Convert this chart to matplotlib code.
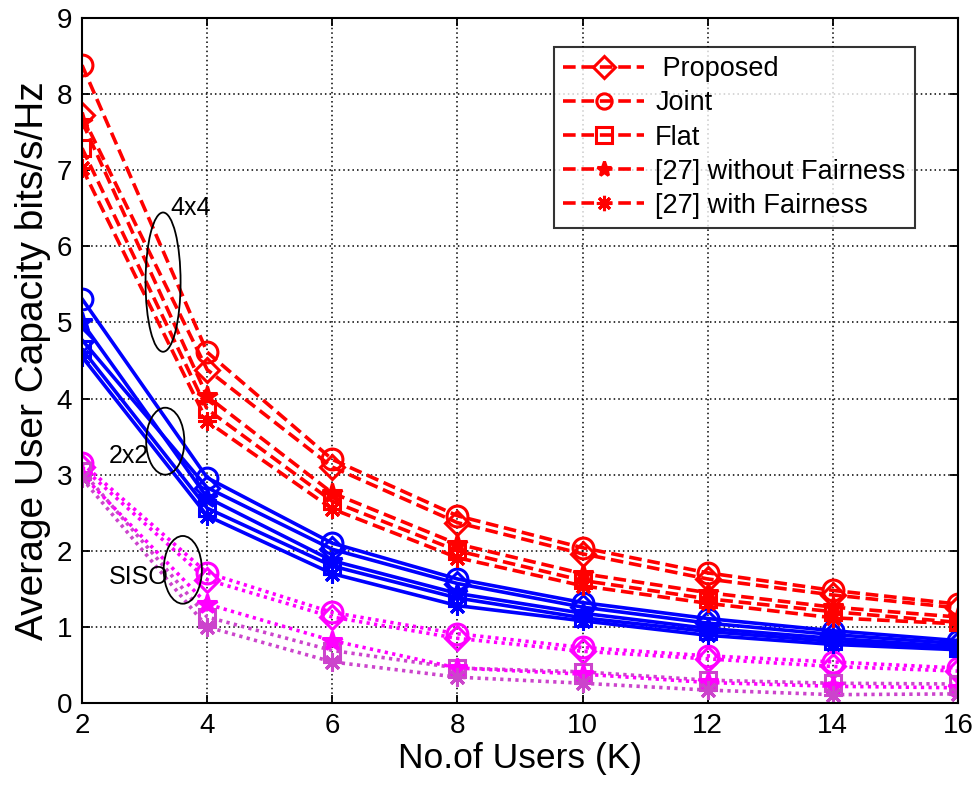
import matplotlib
matplotlib.use('Agg')
import matplotlib.pyplot as plt
from matplotlib.patches import Ellipse

plt.rcParams['font.family'] = ['Liberation Sans', 'DejaVu Sans']

users = [2, 4, 6, 8, 10, 12, 14, 16]

# 4x4 MIMO
mimo4_proposed = [7.72, 4.38, 3.10, 2.37, 1.96, 1.63, 1.42, 1.25]
mimo4_joint    = [8.38, 4.61, 3.20, 2.46, 2.04, 1.71, 1.48, 1.30]
mimo4_flat     = [7.29, 3.86, 2.65, 2.00, 1.61, 1.37, 1.20, 1.06]
mimo4_nofair   = [7.64, 4.03, 2.76, 2.09, 1.70, 1.45, 1.26, 1.13]
mimo4_fair     = [7.03, 3.70, 2.55, 1.91, 1.54, 1.31, 1.12, 1.04]

# 2x2 MIMO
mimo2_proposed = [4.77, 2.83, 2.02, 1.57, 1.26, 1.05, 0.90, 0.78]
mimo2_joint    = [5.31, 2.96, 2.10, 1.63, 1.32, 1.11, 0.95, 0.82]
mimo2_flat     = [4.65, 2.56, 1.80, 1.38, 1.12, 0.94, 0.81, 0.72]
mimo2_nofair   = [5.00, 2.70, 1.87, 1.44, 1.18, 0.98, 0.85, 0.74]
mimo2_fair     = [4.55, 2.46, 1.70, 1.28, 1.08, 0.89, 0.77, 0.70]

# SISO
siso_proposed = [3.10, 1.62, 1.13, 0.85, 0.68, 0.58, 0.48, 0.42]
siso_joint    = [3.15, 1.71, 1.19, 0.91, 0.73, 0.62, 0.54, 0.46]
siso_flat     = [3.05, 1.13, 0.69, 0.46, 0.41, 0.30, 0.26, 0.25]
siso_nofair   = [3.00, 1.30, 0.82, 0.46, 0.38, 0.27, 0.22, 0.20]
siso_fair     = [2.95, 1.00, 0.54, 0.34, 0.26, 0.17, 0.11, 0.12]

labels = [' Proposed', 'Joint', 'Flat', '[27] without Fairness', '[27] with Fairness']
asterisk = (8, 2, 0)
markers = ['D', 'o', 's', '*', asterisk]
msizes = [12, 15, 12, 15, 13]

fig = plt.figure(figsize=(9.79, 7.87), dpi=100)
ax = fig.add_axes([0.0838, 0.1067, 0.8947, 0.8704])

red_sets = [mimo4_proposed, mimo4_joint, mimo4_flat, mimo4_nofair, mimo4_fair]
blue_sets = [mimo2_proposed, mimo2_joint, mimo2_flat, mimo2_nofair, mimo2_fair]
mag_sets = [siso_proposed, siso_joint, siso_flat, siso_nofair, siso_fair]
mag_cols = ['#FF00FF', '#FF00FF', '#CC44CC', '#FF00FF', '#CC44CC']

for i in range(5):
    ax.plot(users, mag_sets[i], color=mag_cols[i], ls=(0, (0.9, 1.2)), lw=2.6,
            marker=markers[i], ms=msizes[i], mfc=mag_cols[i] if markers[i] == '*' else 'none',
            mew=2.2)
for i in range(5):
    ax.plot(users, blue_sets[i], color='#0000FF', ls='-', lw=2.6,
            marker=markers[i], ms=msizes[i], mfc='#0000FF' if markers[i] == '*' else 'none',
            mew=2.2)
red_lines = []
for i in range(5):
    l, = ax.plot(users, red_sets[i], color='#FF0000', ls=(0, (3.5, 1.6)), lw=2.6,
                 marker=markers[i], ms=msizes[i], mfc='#FF0000' if markers[i] == '*' else 'none',
                 mew=2.2, label=labels[i])
    red_lines.append(l)

# group annotations
ax.add_patch(Ellipse((3.295, 5.53), 0.56, 1.83, fill=False, ec='k', lw=1.3, zorder=5))
ax.add_patch(Ellipse((3.33, 3.44), 0.61, 0.88, fill=False, ec='k', lw=1.3, zorder=5))
ax.add_patch(Ellipse((3.61, 1.75), 0.61, 0.89, fill=False, ec='k', lw=1.3, zorder=5))
ax.text(3.41, 6.5, '4x4', fontsize=18, va='center', ha='left')
ax.text(2.42, 3.24, '2x2', fontsize=18, va='center', ha='left')
ax.text(2.42, 1.65, 'SISO', fontsize=18, va='center', ha='left')

ax.set_xlim(2, 16)
ax.set_ylim(0, 9)
ax.set_xticks(users)
ax.set_yticks(range(10))
ax.grid(True, color='k', ls=(0, (1, 2)), lw=1.1)
ax.tick_params(direction='in', top=True, right=True, labelsize=20, length=6, width=1.3, pad=7)
for s in ax.spines.values():
    s.set_linewidth(1.5)
ax.set_xlabel('No.of Users (K)', fontsize=25.5, labelpad=2)
ax.set_ylabel('Average User Capacity bits/s/Hz', fontsize=28, labelpad=4)

leg = ax.legend(handles=red_lines, loc='upper right', bbox_to_anchor=(0.951, 0.958),
                borderaxespad=0, fontsize=19.5, frameon=True, fancybox=False, edgecolor='k',
                handlelength=3.0, labelspacing=0.3, borderpad=0.35, handletextpad=0.4)
leg.get_frame().set_linewidth(1.5)
for h in leg.legend_handles:
    h.set_markersize(11)

fig.savefig('out.png', dpi=100)
